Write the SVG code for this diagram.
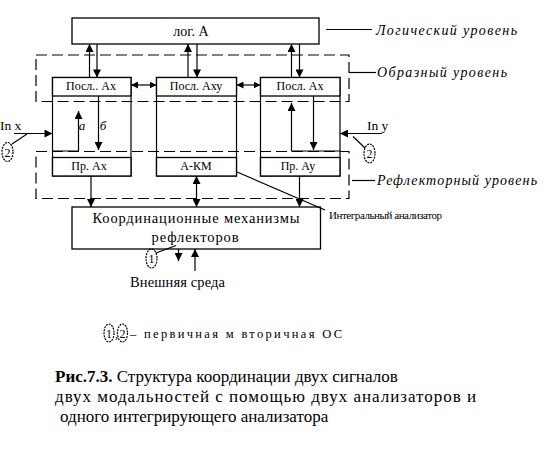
<svg xmlns="http://www.w3.org/2000/svg" width="547" height="453" viewBox="0 0 547 453" font-family="Liberation Serif, DejaVu Serif, Times New Roman, serif">
<defs>
<marker id="ah" viewBox="0 0 10 10" refX="10" refY="5" markerWidth="9" markerHeight="8" markerUnits="userSpaceOnUse" orient="auto-start-reverse"><path d="M0,0 L10,5 L0,10 z" fill="#000"/></marker>
<marker id="ahs" viewBox="0 0 10 10" refX="10" refY="5" markerWidth="7" markerHeight="7" markerUnits="userSpaceOnUse" orient="auto-start-reverse"><path d="M0,0 L10,5 L0,10 z" fill="#000"/></marker>
</defs>
<style>
.box{fill:#fff;stroke:#000;stroke-width:1.3}
.ln{fill:none;stroke:#000;stroke-width:1.2}
.dash{fill:none;stroke:#000;stroke-width:1.2;stroke-dasharray:11 5}
.it{font-style:italic}
</style>
<rect width="547" height="453" fill="#fff"/>

<g id="levels">
<rect class="dash" x="36" y="55" width="313" height="46.5"/>
<rect class="dash" x="36" y="151.5" width="313" height="47"/>
</g>

<g id="log">
<rect class="box" x="72" y="18" width="247" height="26"/>
<text x="191" y="36" font-size="14" text-anchor="middle" font-family="Liberation Serif, serif">лог. А</text>
</g>

<g id="col1">
<rect class="ln" x="52.5" y="77.5" width="78.5" height="98.5"/>
<rect class="box" x="52.5" y="77.5" width="78.5" height="18.5"/>
<text x="91" y="90" font-size="12" text-anchor="middle">Посл.. Ах</text>
<rect class="box" x="52.5" y="157.5" width="78.5" height="18.5"/>
<text x="89" y="170" font-size="12" text-anchor="middle">Пр. Ах</text>
</g>

<g id="col2">
<rect class="ln" x="156.5" y="77.5" width="80" height="98.5"/>
<rect class="box" x="156.5" y="77.5" width="80" height="18.5"/>
<text x="196" y="90" font-size="12" text-anchor="middle">Посл. Аху</text>
<rect class="box" x="156.5" y="157.5" width="80" height="18.5"/>
<text x="196" y="170" font-size="12" text-anchor="middle">А-КМ</text>
</g>

<g id="col3">
<rect class="ln" x="260.5" y="77.5" width="79.5" height="98.5"/>
<rect class="box" x="260.5" y="77.5" width="79.5" height="18.5"/>
<text x="300" y="90" font-size="12" text-anchor="middle">Посл. Ах</text>
<rect class="box" x="260.5" y="157.5" width="79.5" height="18.5"/>
<text x="298" y="170" font-size="12" text-anchor="middle">Пр. Ау</text>
</g>

<g id="coord">
<rect class="box" x="72" y="207" width="248.5" height="42"/>
<text x="196" y="223" font-size="14.5" text-anchor="middle" textLength="207" lengthAdjust="spacing">Координационные механизмы</text>
<text x="195" y="242" font-size="14.5" text-anchor="middle" textLength="87" lengthAdjust="spacing">рефлекторов</text>
</g>

<g id="connectors">
<line class="ln" x1="89.5" y1="77.5" x2="89.5" y2="44" marker-end="url(#ah)"/>
<line class="ln" x1="97" y1="44" x2="97" y2="77.5" marker-end="url(#ah)"/>
<line class="ln" x1="188" y1="77.5" x2="188" y2="44" marker-end="url(#ah)"/>
<line class="ln" x1="197" y1="44" x2="197" y2="77.5" marker-end="url(#ah)"/>
<line class="ln" x1="291.5" y1="77.5" x2="291.5" y2="44" marker-end="url(#ah)"/>
<line class="ln" x1="299.5" y1="44" x2="299.5" y2="77.5" marker-end="url(#ah)"/>
<line class="ln" x1="131" y1="85" x2="156.5" y2="85" marker-start="url(#ahs)" marker-end="url(#ahs)"/>
<line class="ln" x1="236.5" y1="85" x2="260.5" y2="85" marker-start="url(#ahs)" marker-end="url(#ahs)"/>
<polyline class="ln" points="52.5,151 78.5,151 78.5,111" marker-end="url(#ah)"/>
<line class="ln" x1="98.5" y1="96" x2="98.5" y2="150" marker-end="url(#ah)"/>
<polyline class="ln" points="340,151 291.5,151 291.5,103" marker-end="url(#ah)"/>
<line class="ln" x1="313.5" y1="96" x2="313.5" y2="150" marker-end="url(#ah)"/>
<line class="ln" x1="14" y1="133.5" x2="52.5" y2="133.5" marker-end="url(#ah)"/>
<line class="ln" x1="382" y1="133.5" x2="340" y2="133.5" marker-end="url(#ah)"/>
<line class="ln" x1="12" y1="144" x2="27" y2="134" stroke-width="0.8"/>
<line class="ln" x1="365" y1="148" x2="353" y2="136.5" stroke-width="0.8"/>
<line class="ln" x1="91" y1="176" x2="91" y2="207" marker-end="url(#ah)"/>
<line class="ln" x1="196.5" y1="176" x2="196.5" y2="207" marker-start="url(#ah)" marker-end="url(#ah)"/>
<line class="ln" x1="299.5" y1="176" x2="299.5" y2="207" marker-end="url(#ah)"/>
<line class="ln" x1="178.5" y1="249" x2="178.5" y2="261" marker-end="url(#ah)"/>
<line class="ln" x1="195" y1="271" x2="195" y2="249" marker-end="url(#ah)"/>
<line class="ln" x1="156" y1="253" x2="176" y2="245.5" stroke-width="0.8"/>
<line class="ln" x1="237" y1="172" x2="325" y2="210" stroke-width="0.9"/>
<line class="ln" x1="326" y1="29.5" x2="372" y2="29.5"/>
<line class="ln" x1="349" y1="72.5" x2="376" y2="72.5"/>
<line class="ln" x1="352" y1="180.5" x2="375" y2="180.5"/>
</g>

<g id="markers">
<ellipse class="ln" cx="7.5" cy="152" rx="5.5" ry="9.5" stroke-width="0.8" stroke-dasharray="2 1"/>
<text x="7.5" y="156.5" font-size="12" text-anchor="middle">2</text>
<ellipse class="ln" cx="369.5" cy="153.5" rx="5.5" ry="9.5" stroke-width="0.8" stroke-dasharray="2 1"/>
<text x="369.5" y="158" font-size="12" text-anchor="middle">2</text>
<ellipse class="ln" cx="151.5" cy="258.5" rx="5.5" ry="9.5" stroke-width="0.8" stroke-dasharray="2 1"/>
<text x="151.5" y="263" font-size="12" text-anchor="middle">1</text>
</g>

<g id="labels">
<text x="0" y="130" font-size="13.5">In x</text>
<text x="367" y="130" font-size="13.5">In y</text>
<text class="it" x="82" y="130" font-size="13" text-anchor="middle">а</text>
<text class="it" x="103" y="130" font-size="13" text-anchor="middle">б</text>
<text class="it" x="376" y="34.5" font-size="14" textLength="141" lengthAdjust="spacing">Логический уровень</text>
<text class="it" x="377" y="77" font-size="14" textLength="130" lengthAdjust="spacing">Образный уровень</text>
<text class="it" x="377" y="185" font-size="14" textLength="160" lengthAdjust="spacing">Рефлекторный уровень</text>
<text x="329" y="219" font-size="11" textLength="113" lengthAdjust="spacing">Интегральный анализатор</text>
<text x="130" y="287" font-size="14.5" textLength="95" lengthAdjust="spacing">Внешняя среда</text>
</g>

<g id="legend">
<ellipse class="ln" cx="109" cy="333" rx="5" ry="9" stroke-width="0.8" stroke-dasharray="2 1"/>
<text x="109" y="337.5" font-size="12" text-anchor="middle">1</text>
<text x="115" y="338" font-size="12">,</text>
<ellipse class="ln" cx="122.5" cy="333" rx="5" ry="9" stroke-width="0.8" stroke-dasharray="2 1"/>
<text x="122.5" y="337.5" font-size="12" text-anchor="middle">2</text>
<text x="130" y="337.5" font-size="12.5" textLength="212" lengthAdjust="spacing">– первичная м вторичная ОС</text>
</g>

<g id="caption">
<text x="55" y="382" font-size="17"><tspan font-weight="bold">Рис.7.3.</tspan> Структура координации двух сигналов</text>
<text x="55" y="402" font-size="17" textLength="421" lengthAdjust="spacing">двух модальностей с помощью двух анализаторов и</text>
<text x="60" y="422" font-size="17"> одного интегрирующего анализатора</text>
</g>
</svg>
